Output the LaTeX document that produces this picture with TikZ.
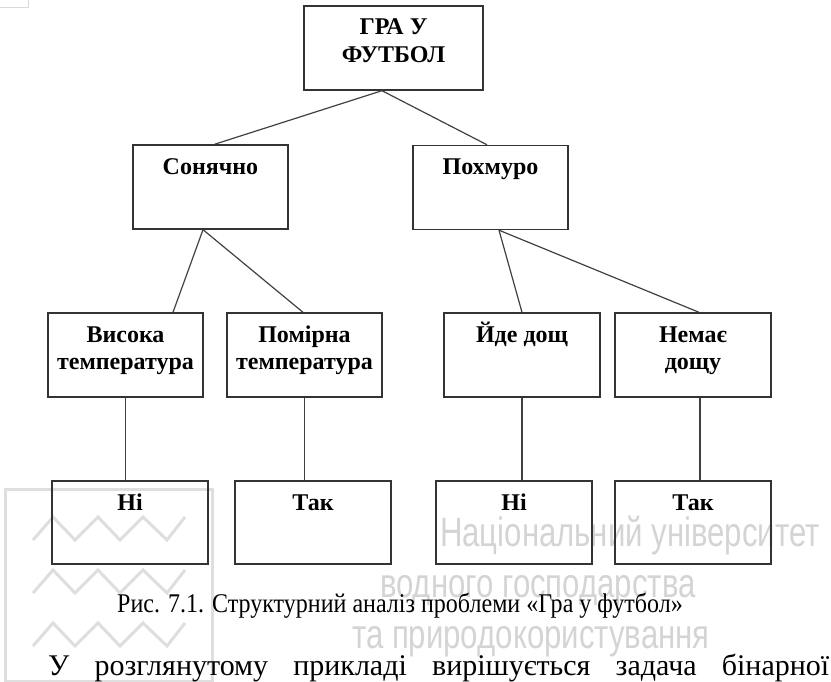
\documentclass[tikz,border=0pt]{standalone}
\usepackage{fontspec}
\setmainfont{Liberation Serif}
\setsansfont{Liberation Sans}
\usetikzlibrary{calc}

% box contents: text set from the top of a fixed-size box
\newcommand\boxlabel[3]{\parbox[c][#2][t]{#1}{\centering\rule{0pt}{29pt}#3\par}}

\begin{document}
\begin{tikzpicture}[x=1pt,y=-1pt,
  box/.style={draw=black!80, line width=1.4pt, inner sep=0pt,
    font=\fontsize{24}{27.5}\selectfont\bfseries},
  link/.style={draw=black!75, line width=1.2pt},
  wmline/.style={draw=black!13, line width=3pt, line join=miter},
  wmtext/.style={text=black!17, font=\sffamily\fontsize{41}{41}\selectfont,
    inner sep=0pt, anchor=base west, xscale=0.76},
  plaintext/.style={inner sep=0pt, anchor=base west},
]
\useasboundingbox (0,0) rectangle (831,682);

% background logo and lettering
\draw[draw=black!15, line width=1pt] (0,7.5) -- (28,7.5) -- (28,0);
\draw[wmline] (5,489) rectangle (212,681);
\foreach \dy in {0,53,106}
  \draw[wmline] (33,{540+\dy}) -- (53,{517+\dy}) -- (75,{540+\dy}) -- (98,{517+\dy})
    -- (120,{540+\dy}) -- (143,{517+\dy}) -- (167,{540+\dy}) -- (185,{517+\dy});
\node[wmtext] (wm1) at (440,546) {Національний університет};
\node[wmtext] (wm2) at (380,597) {водного господарства};
\node[wmtext] (wm3) at (352,648) {та природокористування};

% tree boxes
\node[box] (game)   at (393.5,48)  {\boxlabel{179pt}{84pt}{ГРА У\\ФУТБОЛ}};
\node[box] (sunny)  at (210.5,187) {\boxlabel{155pt}{84pt}{Сонячно}};
\node[box] (cloudy) at (490.5,187.5) {\boxlabel{155pt}{84pt}{Похмуро}};
\node[box] (hot)    at (125.5,355) {\boxlabel{155pt}{84pt}{Висока\\температура}};
\node[box] (mild)   at (304.5,355) {\boxlabel{155pt}{84pt}{Помірна\\температура}};
\node[box] (rain)   at (522,355)   {\boxlabel{156pt}{84pt}{Йде дощ}};
\node[box] (norain) at (693,355)   {\boxlabel{156pt}{84pt}{Немає\\дощу}};
\node[box] (no1)    at (130,522.5) {\boxlabel{156pt}{83pt}{Ні}};
\node[box] (yes1)   at (313,522.5) {\boxlabel{156pt}{83pt}{Так}};
\node[box] (no2)    at (514,522.5) {\boxlabel{156pt}{83pt}{Ні}};
\node[box] (yes2)   at (693,522.5) {\boxlabel{156pt}{83pt}{Так}};

% connectors
\coordinate (gameApex) at ($(game.south)+(-11.5,0)$);
\draw[link] (gameApex) -- ($(sunny.north)+(4,0)$);
\draw[link] (gameApex) -- ($(cloudy.north)+(-3.5,0)$);
\coordinate (sunnyApex) at ($(sunny.south)+(-7.5,0)$);
\draw[link] (sunnyApex) -- ($(hot.north)+(47.5,0)$);
\draw[link] (sunnyApex) -- ($(mild.north)+(-1.5,0)$);
\coordinate (cloudyApex) at ($(cloudy.south)+(8.5,0)$);
\draw[link] (cloudyApex) -- (rain.north);
\draw[link] (cloudyApex) -- ($(norain.north)+(6,0)$);
\draw[link] (hot.south) -- (hot.south |- no1.north);
\draw[link] (mild.south) -- (mild.south |- yes1.north);
\draw[link] (rain.south) -- (rain.south |- no2.north);
\coordinate (norainFoot) at ($(norain.south)+(7,0)$);
\draw[link] (norainFoot) -- (norainFoot |- yes2.north);

% caption and following text line
\node[plaintext, font=\fontsize{27}{27}\selectfont, xscale=0.89] (caption) at (117,612)
  {Рис. 7.1. Структурний аналіз проблеми «Гра у футбол»};
\node[plaintext, font=\fontsize{30}{30}\selectfont] (para) at (48,675)
  {\makebox[781pt][s]{У розглянутому прикладі вирішується задача бінарної}};
\end{tikzpicture}
\end{document}
